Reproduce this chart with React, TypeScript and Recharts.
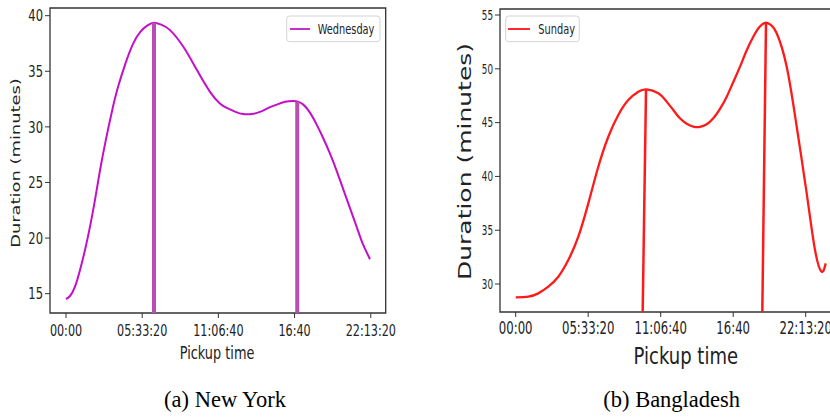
import { Label, Line, LineChart, ReferenceArea, ReferenceLine, XAxis, YAxis } from "recharts";

// pickup time in seconds since midnight
const tickSeconds = [0, 20000, 40000, 60000, 80000];
const tickLabels = ["00:00", "05:33:20", "11:06:40", "16:40", "22:13:20"];

// New York, Wednesday
const nyTime = [
  0, 1050, 2360, 3680, 4990, 6300, 7610, 8930, 10500, 12000, 13500, 15500, 17500, 19500, 21500,
  23100, 25000, 27300, 30800, 34300, 37800, 40400, 42200, 44500, 46500, 48700, 50900, 53100, 55300,
  57500, 59700, 61000, 62300, 64000, 65800, 67500, 69300, 71100, 73700, 76300, 78000, 79800,
];
const nyDuration = [
  14.52, 14.79, 15.63, 17.13, 18.93, 21.03, 23.43, 26.1, 28.9, 31.3, 33.4, 35.6, 37.4, 38.55, 39.15,
  39.37, 39.2, 38.7, 37.2, 35.15, 33.15, 32.1, 31.7, 31.35, 31.15, 31.15, 31.35, 31.7, 32.0, 32.25,
  32.33, 32.25, 32.0, 31.3, 30.2, 29.0, 27.6, 26.0, 23.5, 21.0, 19.4, 18.1,
];
const nyPeakTime = [23100, 60700];
const nyPeakDuration = [39.37, 32.25];
const nyTicksY = [15, 20, 25, 30, 35, 40];

// Bangladesh, Sunday
const bdTime = [
  0, 3480, 6230, 8990, 11750, 14510, 17270, 20030, 22790, 25550, 28300, 31060, 33820, 36140, 39340,
  41400, 43480, 45300, 47170, 49000, 50840, 52700, 54510, 56400, 58210, 60000, 61880, 63700, 65540,
  67300, 69050, 70500, 72000, 74760, 77520, 80280, 82570, 84410, 85520,
];
const bdDuration = [
  28.76, 28.82, 29.13, 29.75, 30.68, 32.23, 34.4, 37.5, 40.9, 43.69, 45.71, 47.1, 47.87, 48.09, 47.72,
  47.05, 46.17, 45.4, 44.9, 44.63, 44.6, 44.85, 45.4, 46.3, 47.41, 48.75, 50.2, 51.7, 52.98, 53.9,
  54.28, 54.05, 53.3, 50.2, 44.62, 38.43, 33.16, 31.14, 31.92,
];
const bdPeakBase = [35030, 68030];
const bdPeakTop = [35950, 69050];
const bdPeakDuration = [48.08, 54.28];
const bdTicksY = [30, 35, 40, 45, 50, 55];

const nyData = nyTime.map((t, i) => ({ t, d: nyDuration[i] }));
const bdData = bdTime.map((t, i) => ({ t, d: bdDuration[i] }));

const NY_X = [-4200, 83920];
const NY_Y = [13.26, 40.69];
const BD_X = [-4330, 98180];
const BD_Y = [27.4, 55.56];

const FONT = "DejaVu Sans";
const INK = "#222";

// matplotlib text in the figure is squashed horizontally, so scale x
function XTick(props: any) {
  const { x, y, payload, size, sx, dy } = props;
  const i = tickSeconds.indexOf(payload.value);
  return (
    <g transform={`translate(${x},${y})`}>
      <text transform={`scale(${sx},1)`} y={dy} textAnchor="middle" dominantBaseline="central" fontSize={size} fontFamily={FONT} fill={INK}>
        {i >= 0 ? tickLabels[i] : ""}
      </text>
    </g>
  );
}

function YTick(props: any) {
  const { x, y, payload, size, sx } = props;
  return (
    <g transform={`translate(${x},${y})`}>
      <text transform={`scale(${sx},1)`} textAnchor="end" dominantBaseline="central" fontSize={size} fontFamily={FONT} fill={INK}>
        {payload.value}
      </text>
    </g>
  );
}

function xTitle(cx: number, cy: number, size: number, sx: number) {
  return () => (
    <g transform={`translate(${cx},${cy}) scale(${sx},1)`}>
      <text textAnchor="middle" dominantBaseline="central" fontSize={size} fontFamily={FONT} fill={INK}>
        Pickup time
      </text>
    </g>
  );
}

function yTitle(cx: number, cy: number, size: number, sx: number) {
  return () => (
    <g transform={`translate(${cx},${cy}) scale(${sx},1) rotate(-90)`}>
      <text textAnchor="middle" dominantBaseline="central" fontSize={size} fontFamily={FONT} fill={INK}>
        Duration (minutes)
      </text>
    </g>
  );
}

function NewYork() {
  return (
    <LineChart width={400} height={417} data={nyData} margin={{ top: 8, right: 14.3, bottom: 64, left: 0 }}>
      <XAxis
        type="number"
        dataKey="t"
        domain={NY_X}
        ticks={tickSeconds}
        allowDataOverflow
        axisLine={false}
        tickSize={5}
        tickLine={{ stroke: "#333" }}
        height={40}
        tick={(p: any) => <XTick {...p} size={16} sx={0.7} dy={10.7} />}
      >
        <Label content={xTitle(217, 353, 17.4, 0.74)} />
      </XAxis>
      <YAxis
        type="number"
        domain={NY_Y}
        ticks={nyTicksY}
        allowDataOverflow
        axisLine={false}
        tickSize={5}
        tickLine={{ stroke: "#333" }}
        width={50}
        tick={(p: any) => <YTick {...p} size={16} sx={0.72} />}
      >
        <Label content={yTitle(15.5, 163, 17.9, 0.73)} />
      </YAxis>
      <Line type="natural" dataKey="d" stroke="#c40fc9" strokeWidth={2} dot={false} isAnimationActive={false} />
      {nyPeakTime.map((t, i) => (
        <ReferenceLine
          key={t}
          segment={[
            { x: t, y: NY_Y[0] },
            { x: t, y: nyPeakDuration[i] },
          ]}
          stroke="#b84fb0"
          strokeWidth={4}
        />
      ))}
      <ReferenceArea x1={NY_X[0]} x2={NY_X[1]} y1={NY_Y[0]} y2={NY_Y[1]} fill="none" stroke="#333" strokeWidth={1.3} />
    </LineChart>
  );
}

function Bangladesh() {
  return (
    <LineChart width={460} height={417} data={bdData} margin={{ top: 9, right: 8.4, bottom: 60, left: 0 }}>
      <XAxis
        type="number"
        dataKey="t"
        domain={BD_X}
        ticks={tickSeconds}
        allowDataOverflow
        axisLine={false}
        tickSize={5}
        tickLine={{ stroke: "#333" }}
        height={45}
        tick={(p: any) => <XTick {...p} size={18} sx={0.65} dy={9.3} />}
      >
        <Label content={xTitle(265.8, 356.7, 22.8, 0.79)} />
      </XAxis>
      <YAxis
        type="number"
        domain={BD_Y}
        ticks={bdTicksY}
        allowDataOverflow
        axisLine={false}
        tickSize={5}
        tickLine={{ stroke: "#333" }}
        width={80}
        tick={(p: any) => <YTick {...p} size={14.6} sx={0.6} />}
      >
        <Label content={yTitle(45, 161.5, 25, 0.68)} />
      </YAxis>
      <Line type="natural" dataKey="d" stroke="#ff1a1a" strokeWidth={2.3} dot={false} isAnimationActive={false} />
      {bdPeakBase.map((t, i) => (
        <ReferenceLine
          key={t}
          segment={[
            { x: t, y: BD_Y[0] },
            { x: bdPeakTop[i], y: bdPeakDuration[i] },
          ]}
          stroke="#ff1a1a"
          strokeWidth={2.5}
        />
      ))}
      <ReferenceArea x1={BD_X[0]} x2={BD_X[1]} y1={BD_Y[0]} y2={BD_Y[1]} fill="none" stroke="#333" strokeWidth={1.3} />
    </LineChart>
  );
}

export default function App() {
  return (
    <div style={{ position: "absolute", left: 0, top: 0, width: 830, height: 417, overflow: "hidden", background: "#fff" }}>
      <div style={{ position: "absolute", left: 0, top: 0 }}>
        <NewYork />
      </div>
      <div style={{ position: "absolute", left: 420, top: 0 }}>
        <Bangladesh />
      </div>
      <svg width={830} height={417} style={{ position: "absolute", left: 0, top: 0, pointerEvents: "none" }}>
        <rect x={286.7} y={16} width={93.3} height={25.7} rx={3} fill="#fff" stroke="#d4d4d4" />
        <line x1={290} x2={310} y1={29} y2={29} stroke="#c62fcb" strokeWidth={2} />
        <text transform="translate(317.7,29) scale(0.7,1)" dominantBaseline="central" fontSize={14} fontFamily={FONT} fill={INK}>
          Wednesday
        </text>
        <rect x={505.7} y={16} width={73.6} height={25.7} rx={3} fill="#fff" stroke="#d4d4d4" />
        <line x1={508} x2={530} y1={29} y2={29} stroke="#ff2a2a" strokeWidth={2} />
        <text transform="translate(538.3,29) scale(0.7,1)" dominantBaseline="central" fontSize={14} fontFamily={FONT} fill={INK}>
          Sunday
        </text>
        <text x={225} y={407} textAnchor="middle" fontSize={22.5} fontFamily="Liberation Serif" fill="#000">
          (a) New York
        </text>
        <text x={671.7} y={407} textAnchor="middle" fontSize={22.5} fontFamily="Liberation Serif" fill="#000">
          (b) Bangladesh
        </text>
      </svg>
    </div>
  );
}
